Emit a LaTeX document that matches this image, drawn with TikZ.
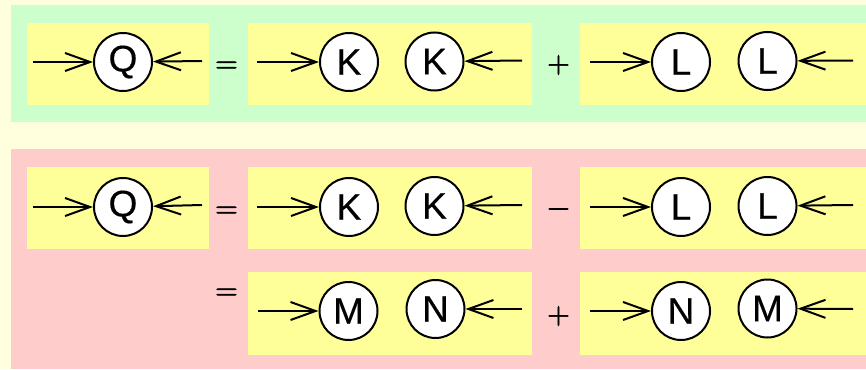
\documentclass[tikz,border=0pt]{standalone}
\usepackage{fontspec}
\newfontfamily\libsans[FakeBold=0.4]{Liberation Sans}
\newfontfamily\lmsigns[FakeBold=2]{Latin Modern Roman}
\usetikzlibrary{arrows.meta}
\definecolor{bgcol}{HTML}{FFFFDD}
\definecolor{greenpanel}{HTML}{CCFFCC}
\definecolor{redpanel}{HTML}{FFCCCC}
\definecolor{yelbox}{HTML}{FFFF99}
\tikzset{
  ball/.style={circle, draw=black, line width=2pt, fill=white, minimum size=58pt, inner sep=0pt,
    font=\libsans\fontsize{37}{37}\selectfont},
  arr/.style={line width=2pt, -{Straight Barb[length=25pt,width=18pt]}},
  opsign/.style={anchor=base, inner sep=0pt, font=\lmsigns\fontsize{31}{31}\selectfont},
  ybox/.style={fill=yelbox}
}
\begin{document}
\begin{tikzpicture}[x=1pt,y=-1pt]
\useasboundingbox (0,0) rectangle (866,369);
\fill[bgcol] (0,0) rectangle (866,369);
\fill[greenpanel] (11,5) rectangle (866,122);
\fill[redpanel] (11,149) rectangle (866,369);
% yellow boxes
\fill[ybox] (27,23) rectangle (209,105);
\fill[ybox] (248,23) rectangle (532,105);
\fill[ybox] (580,23) rectangle (866,105);
\fill[ybox] (27,167) rectangle (209,249);
\fill[ybox] (248,167) rectangle (532,249);
\fill[ybox] (580,167) rectangle (866,249);
\fill[ybox] (248,272) rectangle (532,355);
\fill[ybox] (580,272) rectangle (866,355);

% row 1
\node[ball] (q1) at (123,62) {Q};
\node[ball] (k1a) at (349,62) {K};
\node[ball] (k1b) at (434.5,61.5) {K};
\node[ball] (l1a) at (681,62) {L};
\node[ball] (l1b) at (767.5,61) {L};
\coordinate (q1l) at (33,62);
\coordinate (q1r) at (202,61);
\coordinate (k1l) at (257,62);
\coordinate (k1r) at (522,60.5);
\coordinate (l1l) at (590,62);
\coordinate (l1r) at (853,60.5);
\draw[arr] (q1l) -- (q1);
\draw[arr] (q1r) -- (q1);
\draw[arr] (k1l) -- (k1a);
\draw[arr] (k1r) -- (k1b);
\draw[arr] (l1l) -- (l1a);
\draw[arr] (l1r) -- (l1b);
\node[opsign] (eq1) at (226.5,72.75) {=};
\node[opsign] (pl1) at (558.5,72.75) {+};

% row 2
\node[ball] (q2) at (123,207) {Q};
\node[ball] (k2a) at (349,207) {K};
\node[ball] (k2b) at (434.5,206) {K};
\node[ball] (l2a) at (681,207) {L};
\node[ball] (l2b) at (767.5,206) {L};
\coordinate (q2l) at (33,207);
\coordinate (q2r) at (202,205);
\coordinate (k2l) at (257,207);
\coordinate (k2r) at (522,205);
\coordinate (l2l) at (590,207);
\coordinate (l2r) at (853,205);
\draw[arr] (q2l) -- (q2);
\draw[arr] (q2r) -- (q2);
\draw[arr] (k2l) -- (k2a);
\draw[arr] (k2r) -- (k2b);
\draw[arr] (l2l) -- (l2a);
\draw[arr] (l2r) -- (l2b);
\node[opsign] (eq2) at (226.5,217.75) {=};
\node[opsign] (mi2) at (558.5,216.75) {−};

% row 3
\node[ball] (m3a) at (348.5,311) {M};
\node[ball] (n3a) at (435.5,309) {N};
\node[ball] (n3b) at (681,311) {N};
\node[ball] (m3b) at (767.5,308.5) {M};
\coordinate (m3l) at (258,311);
\coordinate (n3r) at (522,309);
\coordinate (n3l) at (590,311);
\coordinate (m3r) at (853,309);
\draw[arr] (m3l) -- (m3a);
\draw[arr] (n3r) -- (n3a);
\draw[arr] (n3l) -- (n3b);
\draw[arr] (m3r) -- (m3b);
\node[opsign] (eq3) at (226.5,299.75) {=};
\node[opsign] (pl3) at (558.5,323.75) {+};
\end{tikzpicture}
\end{document}
